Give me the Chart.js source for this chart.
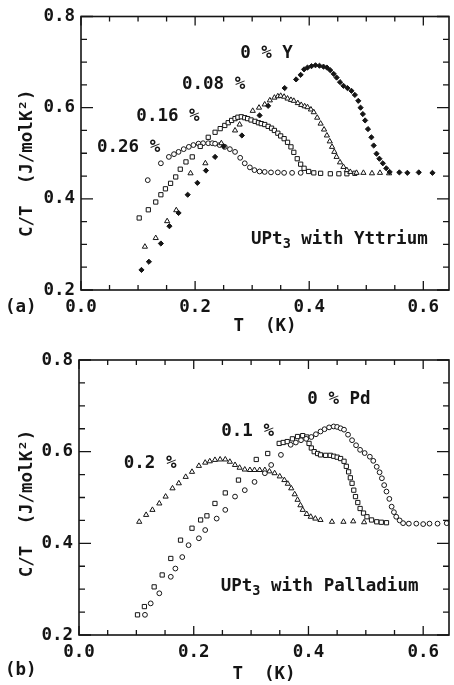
<!DOCTYPE html>
<html>
<head>
<meta charset="utf-8">
<script src="https://cdn.jsdelivr.net/npm/chart.js@4.4.1/dist/chart.umd.min.js"></script>
<style>
  body { margin: 0; background: #fff; }
  .box { position: relative; width: 454px; height: 340px; }
  .box2 { height: 345px; }
</style>
</head>
<body>
<div class="box"><canvas id="chartA"></canvas></div>
<div class="box box2"><canvas id="chartB"></canvas></div>
<script>
// tick labels
const xTicks = [0.0, 0.2, 0.4, 0.6];
const yTicks = [0.2, 0.4, 0.6, 0.8];

// (a) UPt3 with Yttrium, T in K, C/T in J/molK^2
const y0T = [0.106,0.119,0.140,0.155,0.171,0.187,0.204,0.219,0.235,0.250,0.282,0.313,0.328,0.357,0.377,0.385,0.391,0.397,0.404,0.411,0.418,0.425,0.431,0.437,0.443,0.448,0.454,0.460,0.467,0.474,0.480,0.486,0.490,0.494,0.498,0.503,0.509,0.513,0.518,0.523,0.529,0.535,0.541,0.558,0.572,0.592,0.616];
const y0C = [0.244,0.262,0.302,0.340,0.369,0.409,0.435,0.462,0.492,0.515,0.539,0.583,0.604,0.643,0.662,0.672,0.684,0.688,0.691,0.693,0.692,0.690,0.688,0.682,0.674,0.666,0.656,0.648,0.643,0.637,0.628,0.615,0.600,0.586,0.572,0.553,0.535,0.517,0.499,0.488,0.478,0.467,0.459,0.458,0.457,0.458,0.457];

const y08T = [0.112,0.131,0.151,0.167,0.192,0.218,0.246,0.270,0.278,0.301,0.312,0.322,0.331,0.339,0.345,0.350,0.356,0.362,0.368,0.373,0.380,0.386,0.392,0.397,0.403,0.408,0.414,0.420,0.426,0.431,0.436,0.440,0.444,0.448,0.454,0.460,0.466,0.472,0.483,0.495,0.510,0.524,0.540];
const y08C = [0.295,0.314,0.351,0.375,0.456,0.478,0.522,0.550,0.563,0.593,0.600,0.607,0.616,0.622,0.625,0.626,0.624,0.620,0.617,0.615,0.610,0.606,0.603,0.601,0.596,0.590,0.578,0.565,0.552,0.539,0.526,0.514,0.503,0.492,0.480,0.470,0.463,0.459,0.457,0.457,0.456,0.457,0.456];

const y16T = [0.102,0.118,0.131,0.140,0.148,0.157,0.166,0.174,0.184,0.195,0.209,0.223,0.235,0.244,0.252,0.258,0.264,0.270,0.275,0.281,0.287,0.292,0.298,0.305,0.311,0.316,0.322,0.328,0.334,0.339,0.345,0.350,0.356,0.362,0.368,0.373,0.379,0.385,0.391,0.399,0.408,0.420,0.437,0.452,0.466,0.480];
const y16C = [0.358,0.376,0.393,0.409,0.422,0.434,0.448,0.465,0.481,0.492,0.515,0.535,0.546,0.554,0.561,0.567,0.572,0.576,0.579,0.580,0.578,0.576,0.573,0.570,0.567,0.565,0.563,0.559,0.555,0.550,0.544,0.538,0.532,0.524,0.514,0.502,0.488,0.476,0.467,0.460,0.457,0.456,0.455,0.455,0.455,0.456];

const y26T = [0.117,0.140,0.154,0.163,0.171,0.180,0.189,0.197,0.206,0.214,0.223,0.230,0.235,0.243,0.252,0.261,0.270,0.279,0.287,0.296,0.304,0.313,0.322,0.333,0.345,0.356,0.370,0.385];
const y26C = [0.441,0.478,0.492,0.498,0.503,0.509,0.514,0.518,0.521,0.522,0.522,0.522,0.521,0.518,0.514,0.509,0.503,0.490,0.478,0.469,0.463,0.460,0.459,0.458,0.458,0.457,0.457,0.457];

// (b) UPt3 with Palladium
const p0T = [0.115,0.125,0.140,0.160,0.168,0.180,0.191,0.209,0.220,0.240,0.255,0.272,0.289,0.306,0.324,0.335,0.352,0.369,0.378,0.387,0.396,0.405,0.413,0.421,0.428,0.436,0.444,0.450,0.456,0.462,0.469,0.476,0.483,0.490,0.498,0.507,0.513,0.519,0.524,0.528,0.532,0.536,0.541,0.545,0.549,0.553,0.559,0.565,0.575,0.588,0.600,0.611,0.625,0.641];
const p0C = [0.244,0.269,0.291,0.327,0.345,0.370,0.396,0.411,0.429,0.454,0.473,0.502,0.516,0.534,0.553,0.571,0.593,0.615,0.620,0.625,0.628,0.632,0.638,0.644,0.649,0.653,0.655,0.654,0.651,0.648,0.637,0.625,0.614,0.604,0.597,0.589,0.580,0.567,0.555,0.542,0.527,0.513,0.497,0.480,0.468,0.458,0.450,0.444,0.443,0.443,0.442,0.443,0.443,0.444];

const p1T = [0.102,0.114,0.131,0.145,0.160,0.177,0.197,0.212,0.223,0.237,0.255,0.278,0.309,0.329,0.349,0.356,0.363,0.372,0.381,0.390,0.397,0.401,0.405,0.410,0.416,0.421,0.430,0.438,0.444,0.450,0.456,0.462,0.466,0.470,0.473,0.476,0.479,0.482,0.486,0.490,0.496,0.502,0.510,0.519,0.527,0.536];
const p1C = [0.244,0.262,0.305,0.331,0.367,0.407,0.433,0.451,0.460,0.487,0.510,0.538,0.583,0.596,0.618,0.620,0.622,0.628,0.633,0.635,0.632,0.618,0.608,0.600,0.596,0.593,0.592,0.592,0.590,0.588,0.585,0.579,0.568,0.556,0.543,0.531,0.516,0.502,0.489,0.476,0.466,0.458,0.451,0.447,0.446,0.445];

const p2T = [0.105,0.117,0.128,0.140,0.151,0.163,0.174,0.186,0.197,0.209,0.220,0.228,0.237,0.246,0.255,0.263,0.272,0.280,0.289,0.298,0.306,0.315,0.324,0.332,0.341,0.350,0.358,0.364,0.370,0.376,0.381,0.386,0.390,0.397,0.404,0.412,0.421,0.441,0.461,0.478,0.497];
const p2C = [0.447,0.462,0.473,0.487,0.502,0.520,0.531,0.545,0.556,0.569,0.576,0.579,0.582,0.583,0.583,0.578,0.571,0.565,0.561,0.560,0.560,0.560,0.560,0.557,0.553,0.546,0.538,0.530,0.520,0.507,0.495,0.483,0.473,0.464,0.458,0.454,0.451,0.447,0.447,0.448,0.446];

const INK = '#151515';
const FONT = '"DejaVu Sans Mono", monospace';
const SIZE = 17.5;

const pts = (t, c) => t.map((v, i) => ({ x: v, y: c[i] }));

function series(t, c, style, filled) {
  return {
    data: pts(t, c),
    pointStyle: style,
    pointRadius: style === 'circle' ? 2.4 : style === 'rectRot' ? 2.6 : 3,
    pointBorderWidth: 1,
    pointBorderColor: INK,
    pointBackgroundColor: filled ? INK : '#fff',
    showLine: false
  };
}

// inner ticks, frame and text labels
const frameTicks = {
  id: 'frameTicks',
  afterDraw(chart, args, opts) {
    const { ctx, chartArea: a, scales: { x, y } } = chart;
    ctx.save();
    ctx.strokeStyle = INK;
    ctx.lineWidth = 1.6;
    ctx.strokeRect(a.left, a.top, a.right - a.left, a.bottom - a.top);
    ctx.lineWidth = 1.3;
    ctx.beginPath();
    for (let i = 0; i * 0.05 <= x.max + 1e-9; i++) {
      const px = x.getPixelForValue(i * 0.05);
      const len = i % 4 === 0 ? 9 : 5;
      ctx.moveTo(px, a.bottom); ctx.lineTo(px, a.bottom - len);
      ctx.moveTo(px, a.top); ctx.lineTo(px, a.top + len);
    }
    for (let i = 0; 0.2 + i * 0.05 <= y.max + 1e-9; i++) {
      const py = y.getPixelForValue(0.2 + i * 0.05);
      const len = i % 4 === 0 ? 12 : 6;
      ctx.moveTo(a.left, py); ctx.lineTo(a.left + len, py);
      ctx.moveTo(a.right, py); ctx.lineTo(a.right - len, py);
    }
    ctx.stroke();

    ctx.fillStyle = INK;
    ctx.textBaseline = 'middle';
    ctx.textAlign = 'left';
    for (const n of opts.notes) {
      let px = x.getPixelForValue(n.x);
      const py = y.getPixelForValue(n.y);
      n.parts.forEach((p, k) => {
        const sub = k % 2 === 1;
        ctx.font = 'bold ' + (sub ? 13.5 : SIZE) + 'px ' + FONT;
        ctx.fillText(p, px, sub ? py + 5 : py);
        px += ctx.measureText(p).width;
      });
    }
    ctx.font = 'bold ' + SIZE + 'px ' + FONT;
    ctx.fillText(opts.panel, opts.panelX, opts.panelY);

    // y axis title
    ctx.translate(27, (a.top + a.bottom) / 2 + opts.titleShift);
    ctx.rotate(-Math.PI / 2);
    ctx.textAlign = 'center';
    ctx.fillText('C/T  (J/molK²)', 0, 0);
    ctx.restore();
  }
};

function makeChart(id, datasets, notes, panel, panelY, pad, yWidth, titleShift, titleBottom) {
  const font = { family: FONT, size: SIZE, weight: 'bold' };
  new Chart(document.getElementById(id), {
    type: 'scatter',
    data: { datasets },
    plugins: [frameTicks],
    options: {
      responsive: true,
      maintainAspectRatio: false,
      animation: false,
      layout: { padding: pad },
      plugins: {
        legend: { display: false },
        tooltip: { enabled: false },
        frameTicks: { notes, panel, panelX: 5, panelY, titleShift }
      },
      scales: {
        x: {
          type: 'linear', min: 0, max: 0.645,
          grid: { display: false, drawTicks: false },
          border: { display: false },
          afterBuildTicks: s => { s.ticks = xTicks.map(v => ({ value: v })); },
          afterFit: s => { s.height = 50; },
          ticks: { font, color: INK, padding: 7, maxRotation: 0, autoSkip: false, callback: v => v.toFixed(1) },
          title: { display: true, text: 'T  (K)', font, color: INK, padding: { top: 0, bottom: titleBottom } }
        },
        y: {
          type: 'linear', min: 0.2, max: 0.8,
          grid: { display: false, drawTicks: false },
          border: { display: false },
          afterBuildTicks: s => { s.ticks = yTicks.map(v => ({ value: v })); },
          afterFit: s => { s.width = yWidth; },
          ticks: { font, color: INK, padding: 6, callback: v => v.toFixed(1) }
        }
      }
    }
  });
}

makeChart('chartA', [
  series(y0T, y0C, 'rectRot', true),
  series(y08T, y08C, 'triangle', false),
  series(y16T, y16C, 'rect', false),
  series(y26T, y26C, 'circle', false)
], [
  { x: 0.279, y: 0.720, parts: ['0 % Y'] },
  { x: 0.177, y: 0.652, parts: ['0.08 %'] },
  { x: 0.097, y: 0.580, parts: ['0.16 %'] },
  { x: 0.028, y: 0.513, parts: ['0.26 %'] },
  { x: 0.298, y: 0.311, parts: ['UPt', '3', ' with Yttrium'] }
], '(a)', 307, { top: 15, right: 1, left: 0, bottom: 0 }, 81, 10, 3);

makeChart('chartB', [
  series(p0T, p0C, 'circle', false),
  series(p1T, p1C, 'rect', false),
  series(p2T, p2C, 'triangle', false)
], [
  { x: 0.398, y: 0.715, parts: ['0 % Pd'] },
  { x: 0.248, y: 0.645, parts: ['0.1 %'] },
  { x: 0.078, y: 0.575, parts: ['0.2 %'] },
  { x: 0.247, y: 0.305, parts: ['UPt', '3', ' with Palladium'] }
], '(b)', 330, { top: 20, right: 1, left: 0, bottom: 0 }, 79, 6, 0);
</script>
</body>
</html>
